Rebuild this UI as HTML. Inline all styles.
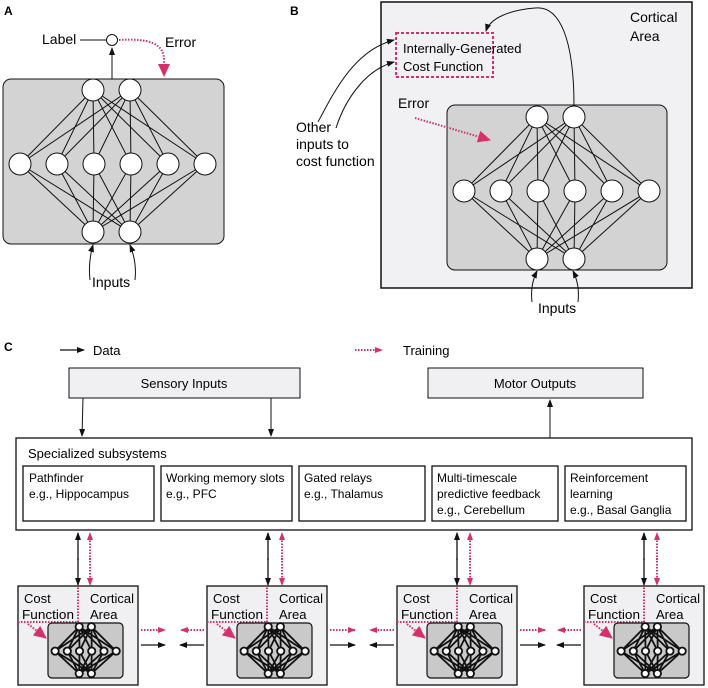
<!DOCTYPE html>
<html><head><meta charset="utf-8"><style>
html,body{margin:0;padding:0;background:#fff;}
svg{display:block;font-family:"Liberation Sans",sans-serif;}
</style></head><body>
<svg width="708" height="688" viewBox="0 0 708 688" xmlns="http://www.w3.org/2000/svg">
<defs>
<marker id="ab" markerWidth="8" markerHeight="8" refX="7" refY="4" orient="auto" markerUnits="userSpaceOnUse"><path d="M0,1 L8,4 L0,7 Z" fill="#111"/></marker>
<marker id="ap" markerWidth="8" markerHeight="8" refX="7" refY="4" orient="auto" markerUnits="userSpaceOnUse"><path d="M0,1 L8,4 L0,7 Z" fill="#d6306a"/></marker>
<marker id="apb" markerWidth="14" markerHeight="14" refX="12" refY="7" orient="auto" markerUnits="userSpaceOnUse"><path d="M0,1 L13,7 L0,13 Z" fill="#d6306a"/></marker>
<g id="net" stroke="#111">
<path vector-effect="non-scaling-stroke" fill="none" d="M93,90L20,164M93,90L57,164M93,90L94,164M93,90L131,164M93,90L168,164M93,90L205,164M130,90L20,164M130,90L57,164M130,90L94,164M130,90L131,164M130,90L168,164M130,90L205,164M93,232L20,164M93,232L57,164M93,232L94,164M93,232L131,164M93,232L168,164M93,232L205,164M130,232L20,164M130,232L57,164M130,232L94,164M130,232L131,164M130,232L168,164M130,232L205,164"/>
<g fill="#fff">
<circle vector-effect="non-scaling-stroke" cx="93" cy="90" r="11"/><circle vector-effect="non-scaling-stroke" cx="130" cy="90" r="11"/>
<circle vector-effect="non-scaling-stroke" cx="20" cy="164" r="11"/><circle vector-effect="non-scaling-stroke" cx="57" cy="164" r="11"/><circle vector-effect="non-scaling-stroke" cx="94" cy="164" r="11"/><circle vector-effect="non-scaling-stroke" cx="131" cy="164" r="11"/><circle vector-effect="non-scaling-stroke" cx="168" cy="164" r="11"/><circle vector-effect="non-scaling-stroke" cx="205" cy="164" r="11"/>
<circle vector-effect="non-scaling-stroke" cx="93" cy="232" r="11"/><circle vector-effect="non-scaling-stroke" cx="130" cy="232" r="11"/>
</g>
</g>
<g id="cx">
<rect x="0" y="0" width="120" height="99" fill="#f0f0f2" stroke="#111" stroke-width="1.3"/>
<path d="M0,36 H60 V0" fill="none" stroke="#d6306a" stroke-width="2" stroke-dasharray="1.5 1.5"/>
<rect x="30" y="37" width="75" height="55" rx="4" fill="#c9c9c9" stroke="#111" stroke-width="1.2"/>
<text x="6" y="17" font-size="13">Cost</text>
<text x="4" y="33" font-size="13" textLength="52" lengthAdjust="spacingAndGlyphs">Function</text>
<text x="72" y="17" font-size="13" textLength="44" lengthAdjust="spacingAndGlyphs">Cortical</text>
<text x="72" y="33" font-size="13">Area</text>
<path d="M10,38 L28,52" stroke="#d6306a" stroke-width="2" stroke-dasharray="1.5 1.5" marker-end="url(#apb)"/>
</g>
</defs>

<!-- Panel A -->
<text x="4" y="15" font-size="12" font-weight="bold">A</text>
<rect x="3" y="79" width="221" height="165" rx="8" fill="#d3d3d3" stroke="#111" stroke-width="1"/>
<line x1="112" y1="79" x2="112" y2="48" stroke="#111" marker-end="url(#ab)"/>
<line x1="80" y1="40" x2="106" y2="40" stroke="#111"/>
<circle cx="112" cy="40" r="5.5" fill="#fff" stroke="#111"/>
<text x="42" y="44" font-size="14">Label</text>
<text x="165" y="47" font-size="14">Error</text>
<path d="M119,40 C150,38 164,44 164,60 L164,76" fill="none" stroke="#d6306a" stroke-width="2" stroke-dasharray="1.5 1.5" marker-end="url(#apb)"/>
<use href="#net" stroke-width="1"/>
<path d="M90,280 Q88,262 93,245" fill="none" stroke="#111" marker-end="url(#ab)"/>
<path d="M135,280 Q137,262 130,245" fill="none" stroke="#111" marker-end="url(#ab)"/>
<text x="92" y="287" font-size="14">Inputs</text>

<!-- Panel B -->
<text x="290" y="15" font-size="12" font-weight="bold">B</text>
<rect x="381" y="2" width="311" height="286" fill="#f1f1f3" stroke="#111" stroke-width="1.5"/>
<text x="630" y="22" font-size="14">Cortical</text>
<text x="630" y="41" font-size="14">Area</text>
<rect x="396" y="33" width="97" height="44" fill="none" stroke="#d6306a" stroke-width="2" stroke-dasharray="3 2"/>
<text x="403" y="53" font-size="13">Internally-Generated</text>
<text x="403" y="71" font-size="13">Cost Function</text>
<rect x="447" y="105" width="220" height="165" rx="8" fill="#d3d3d3" stroke="#111" stroke-width="1"/>
<use href="#net" transform="translate(444,27)" stroke-width="1"/>
<path d="M574,106 C574,40 560,5 535,8 C510,10 490,18 486,31" fill="none" stroke="#111" marker-end="url(#ab)"/>
<text x="398" y="108" font-size="14">Error</text>
<path d="M415,118 L490,140" stroke="#d6306a" stroke-width="2" stroke-dasharray="1.5 1.5" marker-end="url(#apb)"/>
<path d="M318,122 C335,90 355,50 394,40" fill="none" stroke="#111" marker-end="url(#ab)"/>
<path d="M336,128 C345,100 365,70 394,62" fill="none" stroke="#111" marker-end="url(#ab)"/>
<text x="296" y="132" font-size="14">Other</text>
<text x="296" y="149" font-size="14">inputs to</text>
<text x="296" y="166" font-size="14">cost function</text>
<path d="M532,302 Q530,285 537,271" fill="none" stroke="#111" marker-end="url(#ab)"/>
<path d="M578,302 Q580,285 573,271" fill="none" stroke="#111" marker-end="url(#ab)"/>
<text x="538" y="313" font-size="14">Inputs</text>

<!-- Panel C -->
<text x="4" y="351" font-size="12" font-weight="bold">C</text>
<line x1="60" y1="350" x2="84" y2="350" stroke="#111" stroke-width="1.3" marker-end="url(#ab)"/>
<text x="93" y="355" font-size="13">Data</text>
<line x1="355" y1="350" x2="382" y2="350" stroke="#d6306a" stroke-width="2" stroke-dasharray="1.5 1.5" marker-end="url(#ap)"/>
<text x="403" y="355" font-size="13">Training</text>
<rect x="69" y="368" width="231" height="30" fill="#f0f0f2" stroke="#111"/>
<text x="184" y="388" font-size="13" text-anchor="middle">Sensory Inputs</text>
<rect x="428" y="368" width="215" height="30" fill="#f0f0f2" stroke="#111"/>
<text x="535" y="388" font-size="13" text-anchor="middle">Motor Outputs</text>
<line x1="83" y1="398" x2="82" y2="436" stroke="#111" marker-end="url(#ab)"/>
<line x1="271" y1="398" x2="271" y2="436" stroke="#111" marker-end="url(#ab)"/>
<line x1="550" y1="438" x2="550" y2="400" stroke="#111" marker-end="url(#ab)"/>
<rect x="16" y="438" width="676" height="92" fill="#fff" stroke="#111" stroke-width="1.3"/>
<text x="28" y="458" font-size="13">Specialized subsystems</text>
<g stroke="#111" stroke-width="1.3" fill="#fff">
<rect x="23" y="466" width="131" height="55"/>
<rect x="161" y="466" width="131" height="55"/>
<rect x="299" y="466" width="126" height="55"/>
<rect x="432" y="466" width="126" height="55"/>
<rect x="565" y="466" width="121" height="55"/>
</g>
<g font-size="12">
<text x="29" y="482">Pathfinder</text><text x="29" y="498">e.g., Hippocampus</text>
<text x="166" y="482">Working memory slots</text><text x="166" y="498">e.g., PFC</text>
<text x="304" y="482">Gated relays</text><text x="304" y="498">e.g., Thalamus</text>
<text x="437" y="482">Multi-timescale</text><text x="437" y="498">predictive feedback</text><text x="437" y="514">e.g., Cerebellum</text>
<text x="570" y="482">Reinforcement</text><text x="570" y="498">learning</text><text x="570" y="514">e.g., Basal Ganglia</text>
</g>

<!-- vertical connectors -->
<g stroke="#111" stroke-width="1.3">
<line x1="78" y1="560" x2="78" y2="533" marker-end="url(#ab)"/><line x1="78" y1="558" x2="78" y2="585" marker-end="url(#ab)"/>
<line x1="268" y1="560" x2="268" y2="533" marker-end="url(#ab)"/><line x1="268" y1="558" x2="268" y2="585" marker-end="url(#ab)"/>
<line x1="457" y1="560" x2="457" y2="533" marker-end="url(#ab)"/><line x1="457" y1="558" x2="457" y2="585" marker-end="url(#ab)"/>
<line x1="644" y1="560" x2="644" y2="533" marker-end="url(#ab)"/><line x1="644" y1="558" x2="644" y2="585" marker-end="url(#ab)"/>
</g>
<g stroke="#d6306a" stroke-width="2" stroke-dasharray="1.5 1.5">
<line x1="90" y1="560" x2="90" y2="533" marker-end="url(#ap)"/><line x1="90" y1="558" x2="90" y2="585" marker-end="url(#ap)"/>
<line x1="282" y1="560" x2="282" y2="533" marker-end="url(#ap)"/><line x1="282" y1="558" x2="282" y2="585" marker-end="url(#ap)"/>
<line x1="470" y1="560" x2="470" y2="533" marker-end="url(#ap)"/><line x1="470" y1="558" x2="470" y2="585" marker-end="url(#ap)"/>
<line x1="657" y1="560" x2="657" y2="533" marker-end="url(#ap)"/><line x1="657" y1="558" x2="657" y2="585" marker-end="url(#ap)"/>
</g>

<!-- cortical modules -->
<use href="#cx" transform="translate(18,586)"/>
<use href="#net" transform="translate(48.5,597) scale(0.33)" stroke-width="1.8"/>
<use href="#cx" transform="translate(207,586)"/>
<use href="#net" transform="translate(237.5,597) scale(0.33)" stroke-width="1.8"/>
<use href="#cx" transform="translate(397,586)"/>
<use href="#net" transform="translate(427.5,597) scale(0.33)" stroke-width="1.8"/>
<use href="#cx" transform="translate(584,586)"/>
<use href="#net" transform="translate(614.5,597) scale(0.33)" stroke-width="1.8"/>

<!-- horizontal connectors -->
<g stroke="#d6306a" stroke-width="2" stroke-dasharray="1.5 1.5">
<line x1="141" y1="630" x2="165" y2="630" marker-end="url(#ap)"/><line x1="204" y1="630" x2="181" y2="630" marker-end="url(#ap)"/>
<line x1="330" y1="630" x2="355" y2="630" marker-end="url(#ap)"/><line x1="394" y1="630" x2="370" y2="630" marker-end="url(#ap)"/>
<line x1="520" y1="630" x2="545" y2="630" marker-end="url(#ap)"/><line x1="581" y1="630" x2="558" y2="630" marker-end="url(#ap)"/>
</g>
<g stroke="#111" stroke-width="1.3">
<line x1="141" y1="645" x2="165" y2="645" marker-end="url(#ab)"/><line x1="204" y1="645" x2="180" y2="645" marker-end="url(#ab)"/>
<line x1="330" y1="645" x2="355" y2="645" marker-end="url(#ab)"/><line x1="394" y1="645" x2="370" y2="645" marker-end="url(#ab)"/>
<line x1="520" y1="645" x2="545" y2="645" marker-end="url(#ab)"/><line x1="581" y1="645" x2="557" y2="645" marker-end="url(#ab)"/>
</g>
</svg>
</body></html>
